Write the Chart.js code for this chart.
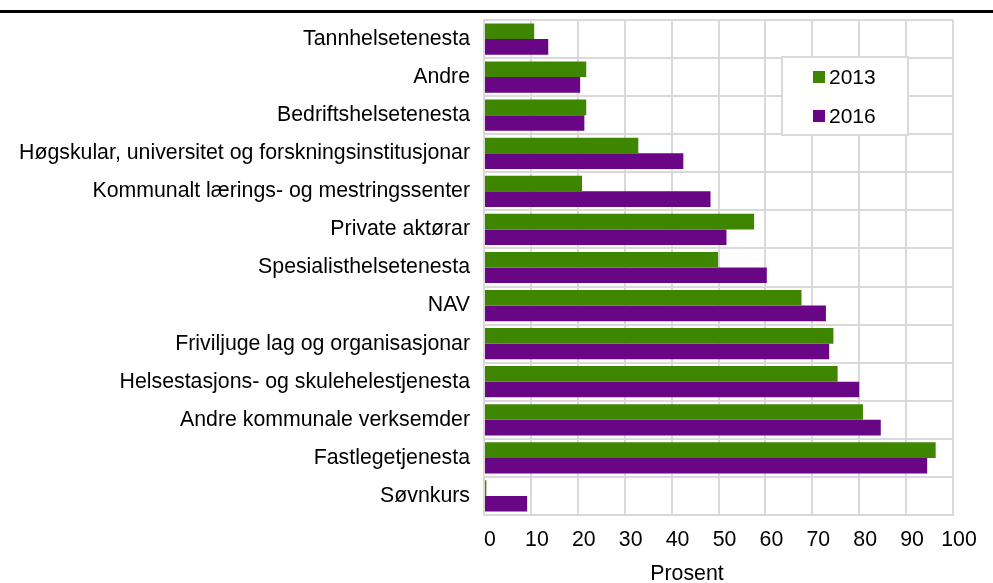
<!DOCTYPE html>
<html>
<head>
<meta charset="utf-8">
<script src="https://cdn.jsdelivr.net/npm/chart.js@4"></script>
<style>
  html, body { margin: 0; padding: 0; background: #fff; }
  #wrap { width: 993px; height: 583px; }
</style>
</head>
<body>
<div id="wrap"><canvas id="chart" width="993" height="583"></canvas></div>
<script>
const CATEGORIES = [
  "Tannhelsetenesta",
  "Andre",
  "Bedriftshelsetenesta",
  "Høgskular, universitet og forskningsinstitusjonar",
  "Kommunalt lærings- og mestringssenter",
  "Private aktørar",
  "Spesialisthelsetenesta",
  "NAV",
  "Friviljuge lag og organisasjonar",
  "Helsestasjons- og skulehelestjenesta",
  "Andre kommunale verksemder",
  "Fastlegetjenesta",
  "Søvnkurs",
];
const VALUES_2013 = [10.7, 21.8, 21.8, 32.9, 20.9, 57.6, 49.9, 67.7, 74.5, 75.4, 80.8, 96.3, 0.5];
const VALUES_2016 = [13.7, 20.5, 21.4, 42.5, 48.3, 51.7, 60.3, 72.9, 73.6, 80.0, 84.6, 94.5, 9.2];
const X_TICKS = [0, 10, 20, 30, 40, 50, 60, 70, 80, 90, 100];
const X_TITLE = "Prosent";

const GREEN = "#3f8600";
const PURPLE = "#680686";
const GRID = "#d9d9d9";
const FONT = "'Liberation Sans', Arial, sans-serif";
const FONT_SIZE = 21.3;

// legend box inside the plot, axis title, and the rule line above the chart
const boxLegend = {
  id: "boxLegend",
  afterDraw(chart) {
    const { ctx } = chart;
    ctx.save();
    ctx.fillStyle = "#000";
    ctx.fillRect(0, 10, chart.width, 3);

    ctx.font = FONT_SIZE + "px " + FONT;
    ctx.textAlign = "center";
    ctx.textBaseline = "alphabetic";
    ctx.fillText(X_TITLE, 687, 580);

    const x = 782, y = 57, w = 126, h = 78;
    ctx.fillStyle = "#fff";
    ctx.fillRect(x, y, w, h);
    ctx.strokeStyle = GRID;
    ctx.lineWidth = 2;
    ctx.strokeRect(x, y, w, h);

    ctx.font = "21px " + FONT;
    ctx.textAlign = "left";
    ctx.textBaseline = "middle";
    chart.data.datasets.forEach((ds, i) => {
      const cy = 77 + i * 39;
      ctx.fillStyle = ds.backgroundColor;
      ctx.fillRect(813, cy - 6, 12, 12);
      ctx.fillStyle = "#000";
      ctx.fillText(ds.label, 829, cy + 1);
    });
    ctx.restore();
  },
};

new Chart(document.getElementById("chart"), {
  type: "bar",
  data: {
    labels: CATEGORIES,
    datasets: [
      { label: "2013", data: VALUES_2013, backgroundColor: GREEN },
      { label: "2016", data: VALUES_2016, backgroundColor: PURPLE },
    ],
  },
  options: {
    indexAxis: "y",
    responsive: false,
    animation: false,
    layout: { padding: { top: 20, right: 40, left: 0, bottom: 0 } },
    datasets: { bar: { categoryPercentage: 0.82, barPercentage: 1 } },
    plugins: { legend: { display: false }, tooltip: { enabled: false } },
    scales: {
      x: {
        min: 0,
        max: 100,
        afterBuildTicks: (s) => { s.ticks = X_TICKS.map((v) => ({ value: v })); },
        afterFit: (s) => { s.height = 68; },
        grid: { color: GRID, lineWidth: 2, drawTicks: false },
        border: { color: GRID, width: 2 },
        ticks: {
          color: "#000",
          font: { family: FONT, size: FONT_SIZE },
          padding: 12,
          labelOffset: 6,
          maxRotation: 0,
        },
      },
      y: {
        afterFit: (s) => {
          s.width = 484;
          s.paddingTop = 0;
          s.paddingBottom = 0;
        },
        grid: { color: GRID, lineWidth: 2, drawTicks: false },
        border: { color: GRID, width: 2 },
        ticks: { color: "#000", font: { family: FONT, size: FONT_SIZE }, padding: 14, autoSkip: false },
      },
    },
  },
  plugins: [boxLegend],
});
</script>
</body>
</html>
